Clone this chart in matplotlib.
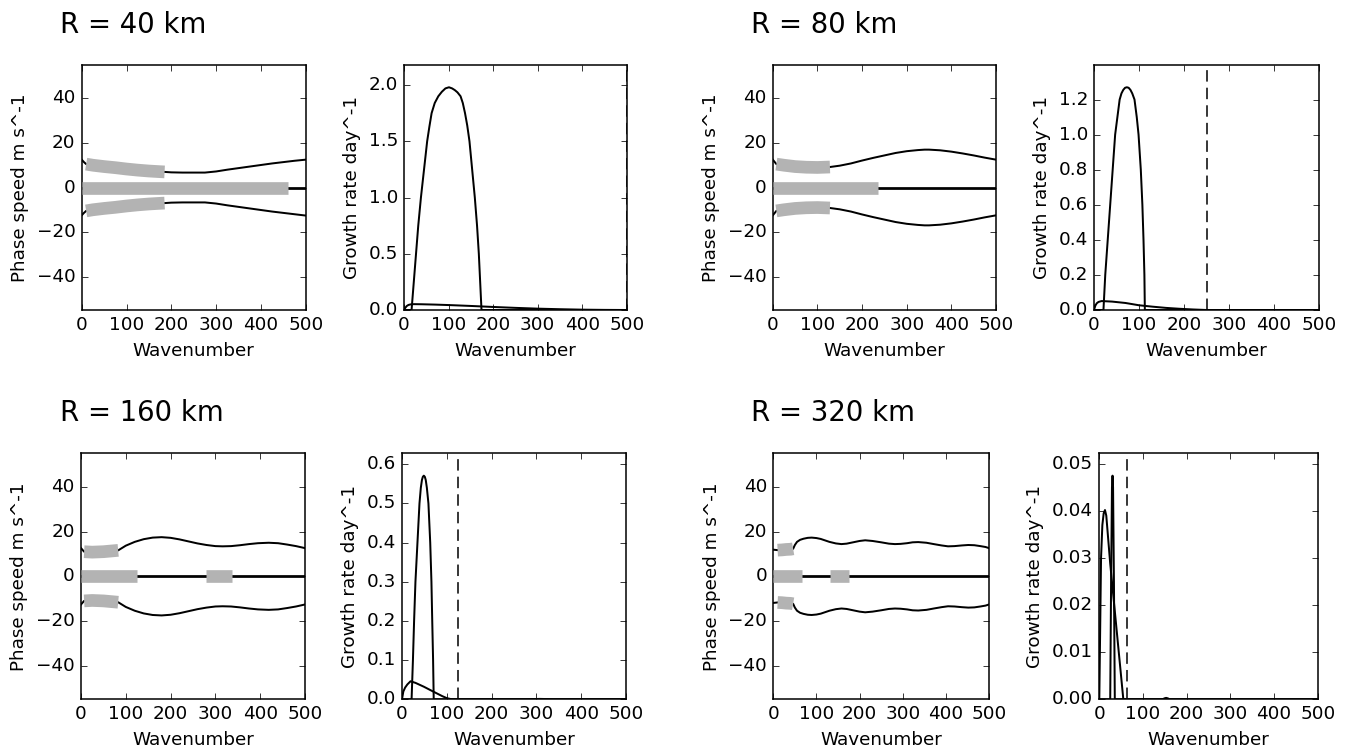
import matplotlib
matplotlib.use("Agg")
import matplotlib.pyplot as plt

plt.style.use("classic")
plt.rcParams["figure.facecolor"] = "white"
plt.rcParams["savefig.facecolor"] = "white"
plt.rcParams["font.family"] = ["DejaVu Sans"]

# ---------------- data ----------------
radii = [40, 80, 160, 320]
cutoff = [500, 250, 125, 62.5]

# phase speed branches (upper / lower); middle branch is c = 0
k40 = [0, 5, 10, 25, 50, 75, 100, 125, 150, 175, 185, 200, 225, 250, 275, 300, 325, 350, 375, 400, 425, 450, 475, 500]
up40 = [12.5, 11.4, 10.5, 10.0, 9.4, 8.9, 8.3, 7.8, 7.4, 7.1, 7.0, 6.8, 6.7, 6.7, 6.7, 7.2, 8.0, 8.7, 9.4, 10.1, 10.8, 11.4, 12.0, 12.5]
lo40 = [-12.5, -11.4, -10.5, -10.0, -9.4, -8.9, -8.3, -7.8, -7.4, -7.1, -7.0, -6.8, -6.7, -6.7, -6.7, -7.2, -8.0, -8.7, -9.4, -10.1, -10.8, -11.4, -12.0, -12.6]

k80 = [0, 8, 25, 50, 75, 100, 128, 150, 175, 200, 225, 250, 275, 300, 325, 340, 350, 375, 400, 425, 450, 475, 500]
up80 = [12.5, 10.5, 10.0, 9.4, 9.1, 9.0, 9.2, 9.8, 10.8, 12.1, 13.3, 14.4, 15.5, 16.3, 16.8, 17.0, 17.0, 16.7, 16.1, 15.3, 14.4, 13.4, 12.5]
lo80 = [-12.5, -10.5, -10.0, -9.4, -9.1, -9.0, -9.2, -9.8, -10.8, -12.1, -13.3, -14.4, -15.5, -16.3, -16.8, -17.0, -17.0, -16.7, -16.1, -15.3, -14.4, -13.4, -12.5]

k160 = [0, 7, 25, 50, 83, 100, 120, 140, 160, 180, 200, 220, 240, 260, 280, 300, 316, 335, 355, 375, 395, 419, 440, 460, 480, 500]
up160 = [12.6, 11.0, 10.8, 11.0, 11.6, 13.7, 15.4, 16.6, 17.3, 17.5, 17.2, 16.5, 15.6, 14.7, 14.0, 13.5, 13.4, 13.5, 13.9, 14.4, 14.8, 15.0, 14.8, 14.2, 13.5, 12.6]
lo160 = [-12.6, -11.0, -10.8, -11.0, -11.6, -13.7, -15.4, -16.6, -17.3, -17.5, -17.2, -16.5, -15.6, -14.7, -14.0, -13.5, -13.4, -13.5, -13.9, -14.4, -14.8, -15.0, -14.8, -14.2, -13.5, -12.6]

k320 = [0, 10, 20, 30, 40, 46, 50, 55, 62, 70, 80, 89, 100, 110, 130, 145, 158, 170, 185, 200, 213, 230, 250, 268, 282, 295, 310, 323, 336, 355, 372, 390, 405, 420, 437, 452, 466, 480, 492, 500]
up320 = [11.9, 11.7, 11.8, 12.0, 12.1, 12.3, 14.0, 15.4, 16.3, 16.8, 17.2, 17.3, 17.1, 16.7, 15.4, 14.7, 14.4, 14.6, 15.2, 15.8, 16.1, 15.8, 15.2, 14.6, 14.4, 14.5, 14.8, 15.2, 15.3, 15.0, 14.4, 13.8, 13.4, 13.5, 13.8, 14.0, 13.9, 13.5, 13.1, 12.6]
lo320 = [-11.9, -11.7, -11.8, -12.0, -12.1, -12.3, -14.0, -15.4, -16.3, -16.8, -17.2, -17.3, -17.1, -16.7, -15.4, -14.7, -14.4, -14.6, -15.2, -15.8, -16.1, -15.8, -15.2, -14.6, -14.4, -14.5, -14.8, -15.2, -15.3, -15.0, -14.4, -13.8, -13.4, -13.5, -13.8, -14.0, -13.9, -13.5, -13.1, -12.6]

# unstable wavenumber ranges (grey highlight)
side_unstable = [(10, 185), (8, 128), (7, 83), (10, 46)]
zero_unstable = [[(0, 460)], [(0, 235)], [(0, 124), (279, 338)], [(0, 66), (131, 175)]]

# growth rates: main mode and weak mode
kb40 = [0, 17, 22, 27, 32, 38, 45, 52, 57, 62, 69, 77, 85, 93, 101, 108, 114, 120, 127, 132, 137, 142, 147, 153, 159, 164, 168, 171, 174, 500]
gb40 = [0, 0, 0.25, 0.5, 0.75, 1.0, 1.25, 1.5, 1.63, 1.75, 1.84, 1.9, 1.94, 1.97, 1.98, 1.97, 1.955, 1.935, 1.9, 1.84, 1.75, 1.64, 1.5, 1.25, 1.0, 0.75, 0.5, 0.25, 0, 0]
ks40 = [0, 3, 6, 10, 15, 22, 40, 70, 100, 150, 200, 250, 300, 350, 400, 450, 500]
gs40 = [0, 0.02, 0.035, 0.045, 0.05, 0.052, 0.051, 0.048, 0.044, 0.036, 0.027, 0.019, 0.012, 0.007, 0.003, 0.001, 0.0]

kb80 = [0, 21, 25, 30.5, 36, 41.5, 47, 52, 57, 61, 65, 69, 73, 77, 81, 85, 90, 95, 99, 104, 107.5, 110, 112, 113, 500]
gb80 = [0, 0, 0.2, 0.4, 0.6, 0.8, 1.0, 1.1, 1.2, 1.235, 1.255, 1.267, 1.27, 1.267, 1.255, 1.235, 1.2, 1.1, 1.0, 0.8, 0.6, 0.4, 0.2, 0, 0]
ks80 = [0, 3, 6, 10, 17, 40, 70, 100, 130, 160, 190, 220, 250, 500]
gs80 = [0, 0.025, 0.038, 0.046, 0.051, 0.048, 0.04, 0.027, 0.019, 0.012, 0.007, 0.003, 0, 0]

kb160 = [0, 21.4, 24.4, 27, 30, 34.5, 39, 42, 44.5, 46.5, 48.7, 51, 53, 55.5, 59, 63, 65.7, 67.5, 69.4, 70.8, 280, 295, 307, 320, 335, 500]
gb160 = [0, 0, 0.1, 0.2, 0.3, 0.4, 0.5, 0.54, 0.56, 0.568, 0.571, 0.568, 0.56, 0.54, 0.5, 0.4, 0.3, 0.2, 0.1, 0, 0, 0.0007, 0.001, 0.0007, 0, 0]
ks160 = [0, 3, 7, 12, 19, 30, 49, 71, 90, 100, 111, 500]
gs160 = [0, 0.02, 0.03, 0.038, 0.046, 0.042, 0.032, 0.019, 0.008, 0.003, 0, 0]

kb320 = [0, 25, 27, 29, 30.3, 31.5, 33.5, 35.5, 145, 149, 153, 157, 161, 500]
gb320 = [0, 0, 0.025, 0.045, 0.0475, 0.045, 0.025, 0, 0, 0.0002, 0.0003, 0.0002, 0, 0]
ks320 = [0, 2, 4, 7, 10, 13, 16, 25, 35, 45, 55, 500]
gs320 = [0, 0.015, 0.03, 0.037, 0.0395, 0.0402, 0.039, 0.0288, 0.0192, 0.0096, 0, 0]

phase_k = [k40, k80, k160, k320]
phase_up = [up40, up80, up160, up320]
phase_lo = [lo40, lo80, lo160, lo320]
grow_main = [(kb40, gb40), (kb80, gb80), (kb160, gb160), (kb320, gb320)]
grow_weak = [(ks40, gs40), (ks80, gs80), (ks160, gs160), (ks320, gs320)]

# ---------------- layout ----------------
W, H = 1348, 753
DPI = 110
fig = plt.figure(figsize=(W / DPI, H / DPI), dpi=DPI)

def px_axes(x0, x1, y0, y1):
    return fig.add_axes([x0 / W, 1 - y1 / H, (x1 - x0) / W, (y1 - y0) / H])

phase_boxes = [(81.7, 305.7, 65, 310), (772.8, 996, 65, 310),
               (81, 305, 453.3, 699.3), (773.3, 989, 453.3, 699.3)]
grow_boxes = [(404, 626.7, 65, 310), (1094, 1319, 65, 310),
              (402, 626, 453.3, 699.3), (1099.3, 1317.7, 453.3, 699.3)]
title_pos = [(60, 33), (751, 33), (60, 421), (751, 421)]

grey = "0.7"
LW = 1.3
for i, R in enumerate(radii):
    # phase speed panel
    ax = px_axes(*phase_boxes[i])
    k = phase_k[i]
    up = phase_up[i]
    lo = phase_lo[i]
    ax.plot(k, up, color="k", lw=LW)
    ax.plot(k, lo, color="k", lw=LW)
    ax.plot([0, 500], [0, 0], color="k", lw=1.8)
    a, b = side_unstable[i]
    ks = [kk for kk in k if a <= kk <= b]
    us = [u for kk, u in zip(k, up) if a <= kk <= b]
    ls = [v for kk, v in zip(k, lo) if a <= kk <= b]
    ax.plot(ks, us, color=grey, lw=8.3, solid_capstyle="butt", zorder=3)
    ax.plot(ks, ls, color=grey, lw=8.3, solid_capstyle="butt", zorder=3)
    for (a0, b0) in zero_unstable[i]:
        ax.plot([a0, b0], [0, 0], color=grey, lw=8.3, solid_capstyle="butt", zorder=3)
    ax.set_xlim(0, 500)
    ax.set_ylim(-55, 55)
    ax.set_xticks([0, 100, 200, 300, 400, 500])
    ax.set_yticks([-40, -20, 0, 20, 40])
    ax.set_xlabel("Wavenumber")
    ax.set_ylabel("Phase speed m s^-1")

    # growth rate panel
    ax2 = px_axes(*grow_boxes[i])
    kb, gb = grow_main[i]
    kw, gw = grow_weak[i]
    ax2.plot(kb, gb, color="k", lw=LW)
    ax2.plot(kw, gw, color="k", lw=LW)
    ax2.axvline(cutoff[i], color="k", lw=1.0, dashes=(7.5, 4))
    ax2.set_xlim(0, 500)
    ax2.set_ylim(0, 1.1 * max(gb))
    ax2.set_xticks([0, 100, 200, 300, 400, 500])
    ax2.set_xlabel("Wavenumber")
    ax2.set_ylabel("Growth rate day^-1")

    tx, ty = title_pos[i]
    fig.text(tx / W, 1 - ty / H, f"R = {R} km", fontsize=18, ha="left", va="baseline")

fig.savefig("out.png", dpi=DPI, facecolor="white")
